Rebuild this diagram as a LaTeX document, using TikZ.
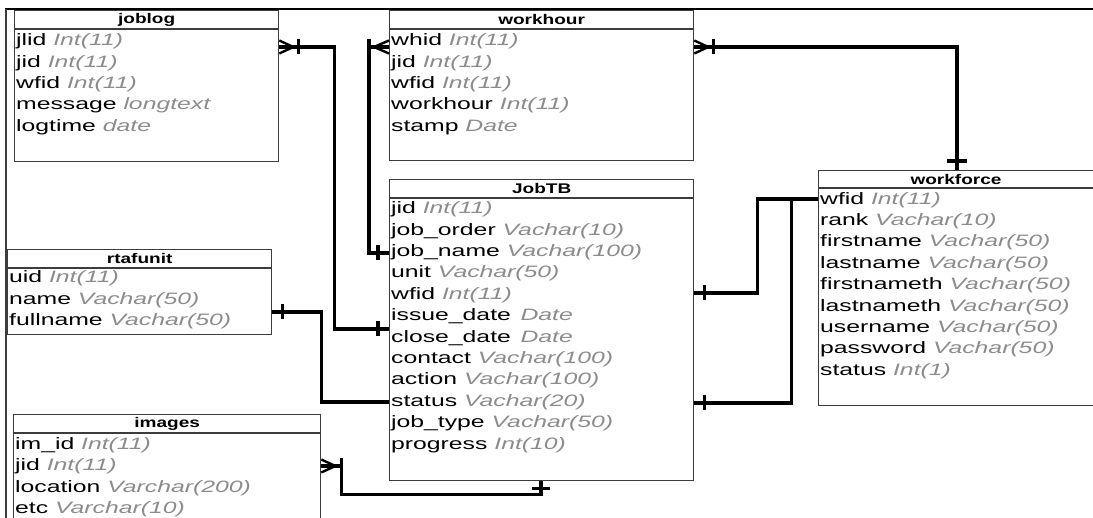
\documentclass[tikz,border=0pt]{standalone}
\usepackage{fontspec}
\newfontfamily\bodyfont{Liberation Sans}[FakeStretch=1.5]
\newfontfamily\headfont{Liberation Sans}[FakeStretch=1.36]
\usetikzlibrary{calc}
\definecolor{typegray}{RGB}{140,140,140}
\definecolor{boxline}{RGB}{60,60,60}
\newcommand{\ftype}[1]{{\color{typegray}\itshape #1}}
\newcommand{\toprow}{\rule{0pt}{14pt}}

\begin{document}
\begin{tikzpicture}[x=1pt,y=-1pt,
    tbl/.style={draw=boxline, line width=1.3pt, inner sep=0pt, anchor=north west},
    tblline/.style={draw=boxline, line width=1.3pt},
    tblhead/.style={font=\headfont\fontsize{14}{16}\selectfont\bfseries, inner sep=0pt},
    tblrows/.style={font=\bodyfont\fontsize{16.5}{21.4}\selectfont, align=left, anchor=north west, inner sep=0pt},
    rel/.style={line width=3.3pt},
    foot/.style={line width=2.4pt},
    bar/.style={line width=3.3pt}]
    \clip (0,0) rectangle (1093,518);
    \fill[white] (0,0) rectangle (1093,518);
    % frame
    \draw[line width=1.6pt] (5,9) -- (1093,9);
    \draw[boxline, line width=1.4pt] (6,9) -- (6,518);

    % joblog
    \node[tbl, minimum width=264pt, minimum height=151pt] (joblog) at (14,10) {};
    \draw[tblline] ($(joblog.north west)+(0,19)$) -- ($(joblog.north east)+(0,19)$);
    \node[tblhead] (joblog-h) at ($(joblog.north)+(0,9.5)$) {joblog};
    \node[tblrows] (joblog-f) at ($(joblog.north west)+(2,21.5)$) {\toprow jlid \ftype{Int(11)}\\jid \ftype{Int(11)}\\wfid \ftype{Int(11)}\\message \ftype{longtext}\\logtime \ftype{date}};

    % workhour
    \node[tbl, minimum width=304pt, minimum height=150pt] (workhour) at (389,10) {};
    \draw[tblline] ($(workhour.north west)+(0,19)$) -- ($(workhour.north east)+(0,19)$);
    \node[tblhead] (workhour-h) at ($(workhour.north)+(0,9.5)$) {workhour};
    \node[tblrows] (workhour-f) at ($(workhour.north west)+(2,21.5)$) {\toprow whid \ftype{Int(11)}\\jid \ftype{Int(11)}\\wfid \ftype{Int(11)}\\workhour \ftype{Int(11)}\\stamp \ftype{Date}};

    % JobTB
    \node[tbl, minimum width=304pt, minimum height=301pt] (jobtb) at (389,179) {};
    \draw[tblline] ($(jobtb.north west)+(0,19)$) -- ($(jobtb.north east)+(0,19)$);
    \node[tblhead] (jobtb-h) at ($(jobtb.north)+(0,9.5)$) {JobTB};
    \node[tblrows] (jobtb-f) at ($(jobtb.north west)+(2,20.5)$) {\toprow jid \ftype{Int(11)}\\job\_order \ftype{Vachar(10)}\\job\_name \ftype{Vachar(100)}\\unit \ftype{Vachar(50)}\\wfid \ftype{Int(11)}\\issue\_date\ \ftype{\,Date}\\close\_date\ \ftype{\,Date}\\contact \ftype{Vachar(100)}\\action \ftype{Vachar(100)}\\status \ftype{Vachar(20)}\\job\_type \ftype{Vachar(50)}\\progress \ftype{Int(10)}};

    % workforce
    \node[tbl, minimum width=290pt, minimum height=235pt] (workforce) at (818,170) {};
    \draw[tblline] ($(workforce.north west)+(0,18)$) -- ($(workforce.north east)+(0,18)$);
    \node[tblhead] (workforce-h) at (956,179) {workforce};
    \node[tblrows] (workforce-f) at ($(workforce.north west)+(2,20)$) {\toprow wfid \ftype{Int(11)}\\rank \ftype{Vachar(10)}\\firstname \ftype{Vachar(50)}\\lastname \ftype{Vachar(50)}\\firstnameth \ftype{Vachar(50)}\\lastnameth \ftype{Vachar(50)}\\username \ftype{Vachar(50)}\\password \ftype{Vachar(50)}\\status \ftype{Int(1)}};

    % rtafunit
    \node[tbl, minimum width=264pt, minimum height=85pt] (rtafunit) at (7,249) {};
    \draw[tblline] ($(rtafunit.north west)+(0,19)$) -- ($(rtafunit.north east)+(0,19)$);
    \node[tblhead] (rtafunit-h) at ($(rtafunit.north)+(0,9.5)$) {rtafunit};
    \node[tblrows] (rtafunit-f) at ($(rtafunit.north west)+(2,19.5)$) {\toprow uid \ftype{Int(11)}\\name \ftype{Vachar(50)}\\fullname \ftype{Vachar(50)}};

    % images
    \node[tbl, minimum width=307pt, minimum height=130pt] (images) at (13,414) {};
    \draw[tblline] ($(images.north west)+(0,19)$) -- ($(images.north east)+(0,19)$);
    \node[tblhead] (images-h) at ($(images.north)+(0,9.5)$) {images};
    \node[tblrows] (images-f) at ($(images.north west)+(2,21)$) {\toprow im\_id \ftype{Int(11)}\\jid \ftype{Int(11)}\\location \ftype{Varchar(200)}\\etc \ftype{Varchar(10)}};

    % attachment points
    \coordinate (jl-out) at ($(joblog.north east)+(0,37)$);
    \coordinate (wh-in) at ($(workhour.north west)+(0,37)$);
    \coordinate (wh-out) at ($(workhour.north east)+(0,37)$);
    \coordinate (jb-name) at ($(jobtb.north west)+(0,74)$);
    \coordinate (jb-date) at ($(jobtb.north west)+(0,150)$);
    \coordinate (jb-status) at ($(jobtb.north west)+(0,223)$);
    \coordinate (jb-wfid) at ($(jobtb.north east)+(0,114)$);
    \coordinate (jb-stat) at ($(jobtb.north east)+(0,224)$);
    \coordinate (jb-bot) at ($(jobtb.south west)+(152,0)$);
    \coordinate (wf-top) at ($(workforce.north west)+(139,0)$);
    \coordinate (wf-in) at ($(workforce.north west)+(0,29)$);
    \coordinate (ru-out) at ($(rtafunit.north east)+(0,63)$);
    \coordinate (im-out) at ($(images.north east)+(0,52)$);

    % joblog -- JobTB
    \draw[rel] (jl-out) -- ++(55,0) |- (jb-date);
    \draw[foot] ($(jl-out)+(0,-6.5)$) -- ++(14,6.5) -- ++(-14,6.5);
    \draw[bar] ($(jl-out)+(19,-7.5)$) -- ++(0,15);
    \draw[bar] ($(jb-date)+(-11,-7.5)$) -- ++(0,15);

    % workhour -- JobTB
    \draw[rel] (wh-in) -- ++(-20,0) |- (jb-name);
    \draw[foot] ($(wh-in)+(0,-6.5)$) -- ++(-15,6.5) -- ++(15,6.5);
    \draw[bar] ($(wh-in)+(-20,-7.5)$) -- ++(0,16);
    \draw[bar] ($(jb-name)+(-11,-7.5)$) -- ++(0,15);

    % workhour -- workforce
    \draw[rel] (wh-out) -| (wf-top);
    \draw[foot] ($(wh-out)+(0,-6.5)$) -- ++(14,6.5) -- ++(-14,6.5);
    \draw[bar] ($(wh-out)+(19,-7.5)$) -- ++(0,15);
    \draw[bar] ($(wf-top)+(-10,-9)$) -- ++(20,0);

    % rtafunit -- JobTB
    \draw[rel] (ru-out) -- ++(49,0) |- (jb-status);
    \draw[bar] ($(ru-out)+(10,-7.5)$) -- ++(0,15);

    % images -- JobTB
    \draw[rel] (im-out) -- ++(20,0) |- ($(jb-bot)+(0,13)$) -- (jb-bot);
    \draw[foot] ($(im-out)+(0,-6.5)$) -- ++(14,6.5) -- ++(-14,6.5);
    \draw[bar] ($(im-out)+(20,-7.5)$) -- ++(0,15);
    \draw[bar] ($(jb-bot)+(-9,7)$) -- ++(18,0);

    % JobTB -- workforce
    \draw[rel] (jb-wfid) -- ++(63,0) |- (wf-in);
    \draw[rel] (jb-stat) -- ++(97,0) |- (wf-in);
    \draw[bar] ($(jb-wfid)+(10,-7.5)$) -- ++(0,15);
    \draw[bar] ($(jb-stat)+(10,-7.5)$) -- ++(0,15);
\end{tikzpicture}
\end{document}
